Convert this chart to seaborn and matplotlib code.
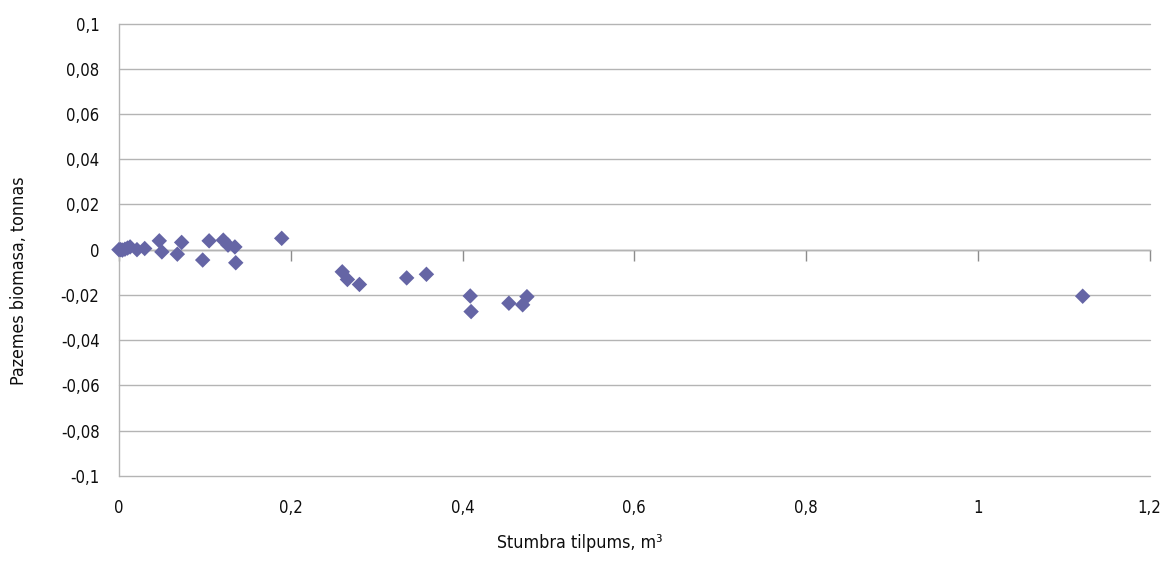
import numpy as np
import pandas as pd
import matplotlib
matplotlib.use("Agg")
import matplotlib.pyplot as plt
import seaborn as sns

# values
stem_volume = [0.000, 0.002, 0.004, 0.007, 0.010, 0.013, 0.021, 0.030,
               0.047, 0.050, 0.068, 0.073, 0.0975, 0.105, 0.1215, 0.127,
               0.135, 0.136, 0.1895, 0.260, 0.266, 0.280, 0.335, 0.358,
               0.409, 0.410, 0.454, 0.470, 0.475, 1.122]
biomass = [0.0000, 0.0000, -0.0002, 0.0002, 0.0007, 0.0012, 0.0000, 0.0005,
           0.0039, -0.0010, -0.0020, 0.0032, -0.0046, 0.0039, 0.0042, 0.0020,
           0.0012, -0.0058, 0.0050, -0.0098, -0.0132, -0.0154, -0.0125, -0.0109,
           -0.0205, -0.0274, -0.0237, -0.0244, -0.0208, -0.0206]

xticks = [0, 0.2, 0.4, 0.6, 0.8, 1.0, 1.2]
xtick_labels = ['0', '0,2', '0,4', '0,6', '0,8', '1', '1,2']
yticks = [-0.1, -0.08, -0.06, -0.04, -0.02, 0, 0.02, 0.04, 0.06, 0.08, 0.1]
ytick_labels = ['-0,1', '-0,08', '-0,06', '-0,04', '-0,02', '0',
                '0,02', '0,04', '0,06', '0,08', '0,1']

df = pd.DataFrame({'volume': stem_volume, 'biomass': biomass})

sns.set_style('white')
plt.rcParams['font.family'] = ['DejaVu Sans Condensed', 'Liberation Sans Narrow',
                               'DejaVu Sans']
plt.rcParams['font.stretch'] = 'condensed'
plt.rcParams['font.size'] = 12

fig = plt.figure(figsize=(11.66, 5.61), dpi=100)
ax = fig.add_axes([0.102, 0.152, 0.884, 0.806])

grid_col = '#B4B4B4'
axis_col = '#8C8C8C'
text_col = '#0d0d0d'

ax.set_xlim(0, 1.2)
ax.set_ylim(-0.1, 0.1)
ax.set_yticks(yticks)
ax.set_yticklabels(ytick_labels)
ax.set_xticks(xticks)
ax.set_xticklabels(xtick_labels)
ax.yaxis.grid(True, color=grid_col, lw=1, clip_on=False)
ax.xaxis.grid(False)
ax.set_axisbelow(True)

for side in ['top', 'right', 'bottom']:
    ax.spines[side].set_visible(False)
ax.spines['left'].set_color(grid_col)
ax.spines['left'].set_linewidth(1)

ax.tick_params(axis='y', direction='out', length=8, width=1, color=grid_col,
               pad=6, labelcolor=text_col, labelsize=12)
ax.tick_params(axis='x', length=0, pad=17, labelcolor=text_col, labelsize=12)

# horizontal axis line at zero with downward tick marks
zero_axis = ax.secondary_xaxis(0.5)
zero_axis.set_xticks(xticks)
zero_axis.tick_params(direction='in', length=8, width=1, color=axis_col,
                      labeltop=False, labelbottom=False)
zero_axis.spines['top'].set_color(axis_col)
zero_axis.spines['top'].set_linewidth(1)
zero_axis.spines['bottom'].set_visible(False)

sns.scatterplot(data=df, x='volume', y='biomass', marker='D', s=62,
                color='#6565A5', edgecolor='none', linewidth=0, ax=ax,
                zorder=5, clip_on=False)
ax.set_xlabel('')
ax.set_ylabel('')

fig.text(0.497, 0.016, 'Stumbra tilpums, m³', ha='center', va='bottom',
         fontsize=12.8, color=text_col)
fig.text(0.016, 0.5, 'Pazemes biomasa, tonnas', ha='center', va='center',
         rotation=90, fontsize=12.8, color=text_col)

fig.savefig('out.png', dpi=100)
plt.close(fig)
